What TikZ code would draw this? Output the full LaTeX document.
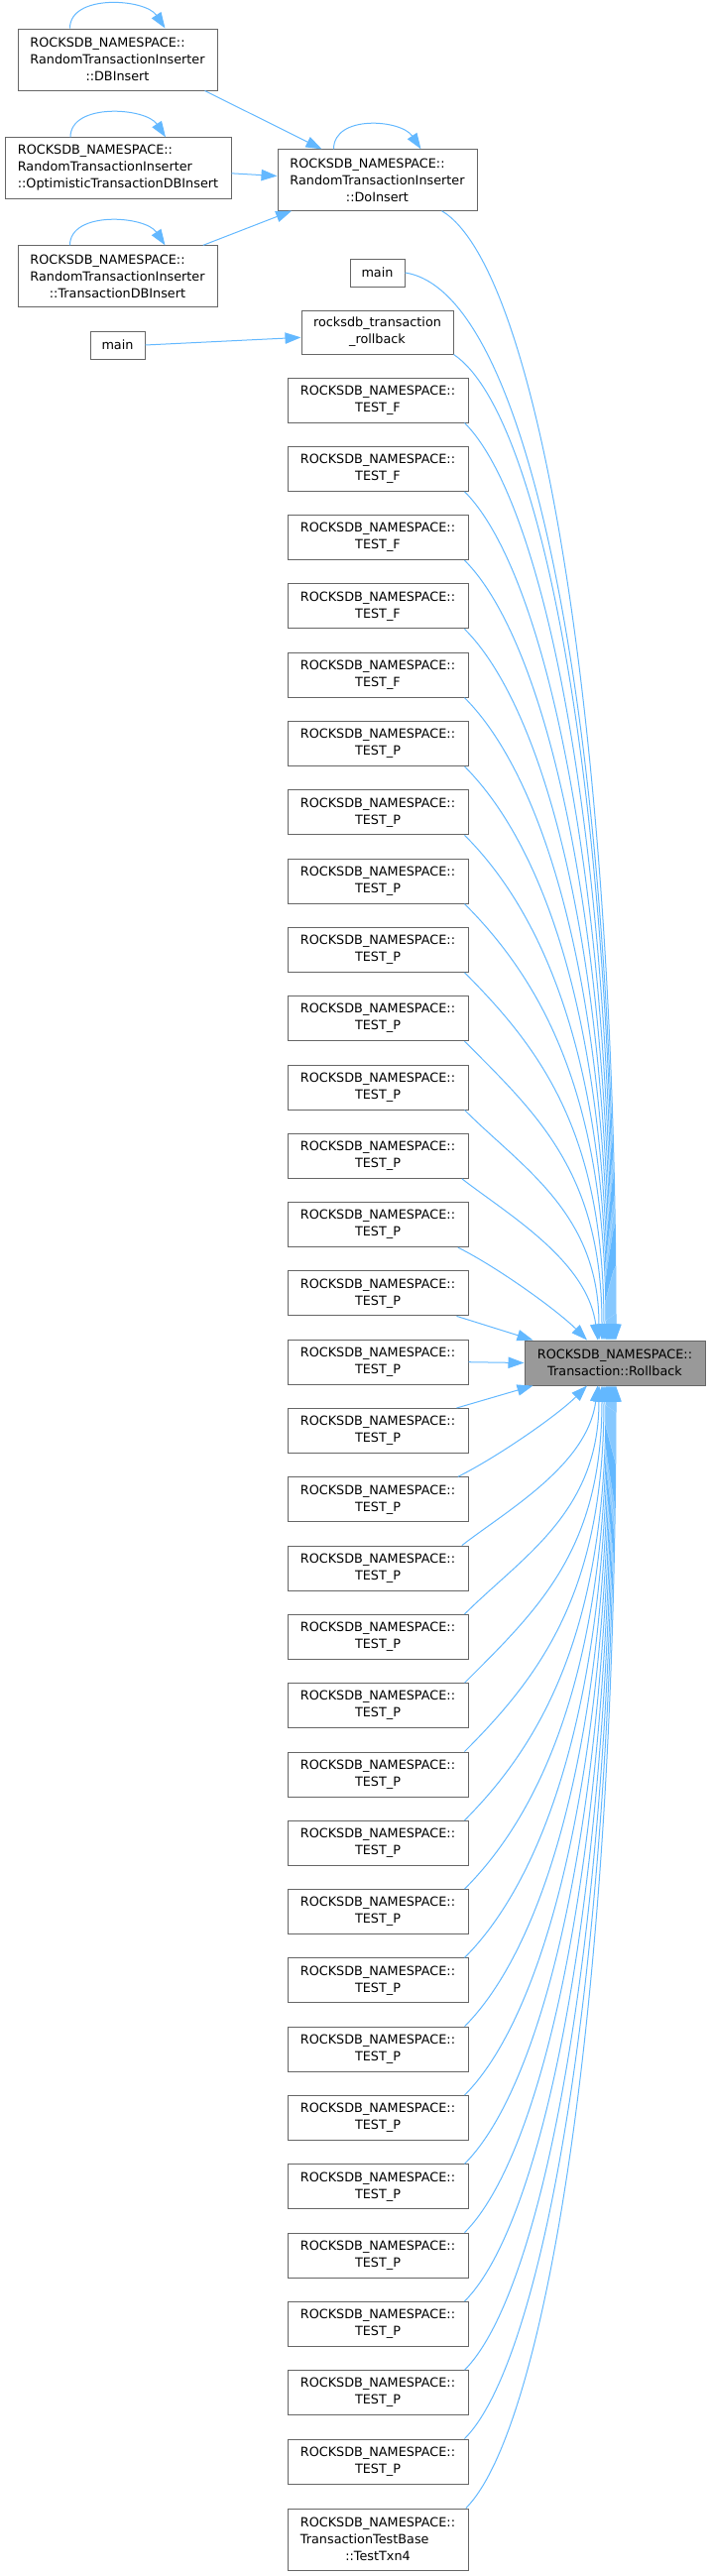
\documentclass[tikz,border=0pt]{standalone}
\usepackage{fontspec}
\setmainfont{DejaVu Sans}
\usepackage{color}
\usepackage{tikz}
\usetikzlibrary{arrows.meta}

\definecolor{edgeblue}{HTML}{63B8FF}
\definecolor{boxgray}{HTML}{666666}
\definecolor{rbgray}{HTML}{999999}

\newcommand{\lpad}[2]{\rlap{#1}\phantom{#2}}

\tikzset{
  fn/.style={draw=boxgray, fill=white, line width=0.75pt, align=center, inner sep=0pt,
    minimum width=136.5pt, minimum height=33.75pt},
  call/.style={draw=edgeblue, line width=0.75pt, -{Triangle[length=12pt,width=8.5pt]}},
}

\begin{document}
\begin{tikzpicture}[x=0.75pt,y=-0.75pt]
\fontsize{9.6}{12.75}\selectfont
\useasboundingbox (0,0) rectangle (716,2598);
% callers of DoInsert
\node[fn, minimum width=150.75pt, minimum height=46.5pt] (dbins) at (118.5,60) {\lpad{ROCKSDB\_NAMESPACE::}{RandomTransactionInserter}\\RandomTransactionInserter\\::DBInsert};
\node[fn, align=left, minimum width=171pt, minimum height=46pt] (optins) at (119,169.5) {ROCKSDB\_NAMESPACE::\\RandomTransactionInserter\\::OptimisticTransactionDBInsert};
\node[fn, minimum width=150.75pt, minimum height=46pt] (txnins) at (118.5,278.5) {\lpad{ROCKSDB\_NAMESPACE::}{RandomTransactionInserter}\\RandomTransactionInserter\\::TransactionDBInsert};
\node[fn, minimum width=150.75pt, minimum height=46pt] (doins) at (380.5,181.5) {\lpad{ROCKSDB\_NAMESPACE::}{RandomTransactionInserter}\\RandomTransactionInserter\\::DoInsert};
\node[fn, minimum width=41.25pt, minimum height=21pt] (mainA) at (380.5,275) {main};
\node[fn, minimum width=114.75pt, minimum height=33pt] (rtr) at (380.5,335) {rocksdb\_transaction\\\_rollback};
\node[fn, minimum width=41.25pt, minimum height=21pt] (mainB) at (118.5,348) {main};
% the tests
\node[fn] (tf1) at (381,403.5) {ROCKSDB\_NAMESPACE::\\TEST\_F};
\node[fn] (tf2) at (381,472.8) {ROCKSDB\_NAMESPACE::\\TEST\_F};
\node[fn] (tf3) at (381,542.1) {ROCKSDB\_NAMESPACE::\\TEST\_F};
\node[fn] (tf4) at (381,611.4) {ROCKSDB\_NAMESPACE::\\TEST\_F};
\node[fn] (tf5) at (381,680.7) {ROCKSDB\_NAMESPACE::\\TEST\_F};
\node[fn] (tp1) at (381,750.0) {ROCKSDB\_NAMESPACE::\\TEST\_P};
\node[fn] (tp2) at (381,819.3) {ROCKSDB\_NAMESPACE::\\TEST\_P};
\node[fn] (tp3) at (381,888.6) {ROCKSDB\_NAMESPACE::\\TEST\_P};
\node[fn] (tp4) at (381,957.9) {ROCKSDB\_NAMESPACE::\\TEST\_P};
\node[fn] (tp5) at (381,1027.2) {ROCKSDB\_NAMESPACE::\\TEST\_P};
\node[fn] (tp6) at (381,1096.5) {ROCKSDB\_NAMESPACE::\\TEST\_P};
\node[fn] (tp7) at (381,1165.8) {ROCKSDB\_NAMESPACE::\\TEST\_P};
\node[fn] (tp8) at (381,1235.1) {ROCKSDB\_NAMESPACE::\\TEST\_P};
\node[fn] (tp9) at (381,1304.4) {ROCKSDB\_NAMESPACE::\\TEST\_P};
\node[fn] (tp10) at (381,1373.7) {ROCKSDB\_NAMESPACE::\\TEST\_P};
\node[fn] (tp11) at (381,1443.0) {ROCKSDB\_NAMESPACE::\\TEST\_P};
\node[fn] (tp12) at (381,1512.3) {ROCKSDB\_NAMESPACE::\\TEST\_P};
\node[fn] (tp13) at (381,1581.6) {ROCKSDB\_NAMESPACE::\\TEST\_P};
\node[fn] (tp14) at (381,1650.9) {ROCKSDB\_NAMESPACE::\\TEST\_P};
\node[fn] (tp15) at (381,1720.2) {ROCKSDB\_NAMESPACE::\\TEST\_P};
\node[fn] (tp16) at (381,1789.5) {ROCKSDB\_NAMESPACE::\\TEST\_P};
\node[fn] (tp17) at (381,1858.8) {ROCKSDB\_NAMESPACE::\\TEST\_P};
\node[fn] (tp18) at (381,1928.1) {ROCKSDB\_NAMESPACE::\\TEST\_P};
\node[fn] (tp19) at (381,1997.4) {ROCKSDB\_NAMESPACE::\\TEST\_P};
\node[fn] (tp20) at (381,2066.7) {ROCKSDB\_NAMESPACE::\\TEST\_P};
\node[fn] (tp21) at (381,2136.0) {ROCKSDB\_NAMESPACE::\\TEST\_P};
\node[fn] (tp22) at (381,2205.3) {ROCKSDB\_NAMESPACE::\\TEST\_P};
\node[fn] (tp23) at (381,2274.6) {ROCKSDB\_NAMESPACE::\\TEST\_P};
\node[fn] (tp24) at (381,2343.9) {ROCKSDB\_NAMESPACE::\\TEST\_P};
\node[fn] (tp25) at (381,2413.2) {ROCKSDB\_NAMESPACE::\\TEST\_P};
\node[fn] (tp26) at (381,2482.5) {ROCKSDB\_NAMESPACE::\\TEST\_P};
\node[fn, minimum height=46.5pt] (txn4) at (381,2561) {ROCKSDB\_NAMESPACE::\\\lpad{TransactionTestBase}{ROCKSDB\_NAMESPACE::}\\::TestTxn4};
\node[fn, fill=rbgray] (rb) at (620,1374.5) {ROCKSDB\_NAMESPACE::\\Transaction::Rollback}; % the callee
% self calls
\draw[call] ([xshift=-36pt]dbins.north) .. controls +(0,-35) and +(-20,-30) .. ([xshift=36pt]dbins.north);
\draw[call] ([xshift=-36pt]optins.north) .. controls +(0,-35) and +(-20,-30) .. ([xshift=36pt]optins.north);
\draw[call] ([xshift=-36pt]txnins.north) .. controls +(0,-35) and +(-20,-30) .. ([xshift=36pt]txnins.north);
\draw[call] ([xshift=-33pt]doins.north) .. controls +(0,-35) and +(-20,-30) .. ([xshift=33pt]doins.north);
% into DoInsert and rocksdb_transaction_rollback
\draw[call] ([xshift=-9.75pt]dbins.south east) -- ([xshift=33.75pt]doins.north west);
\draw[call] ([yshift=-4pt]optins.east) -- ([yshift=3pt]doins.west);
\draw[call] ([xshift=-11pt]txnins.north east) -- ([xshift=11pt]doins.south west);
\draw[call] (mainB.east) -- ([yshift=-4pt]rtr.west);
% into Rollback from above
\draw[call] ([xshift=-27pt]doins.south east) .. controls +(100,60) and +(0,-600) .. ([xshift=0.75pt]rb.north);
\draw[call] (mainA.east) .. controls +(130,20) and +(0,-600) .. (rb.north);
\draw[call] (rtr.south east) .. controls +(90,60) and +(0,-547) .. ([xshift=-0.75pt]rb.north);
\draw[call] ([xshift=-3pt]tf1.south east) .. controls +(80,80) and +(0,-509) .. ([xshift=-1.5pt]rb.north);
\draw[call] ([xshift=-3pt]tf2.south east) .. controls +(80,80) and +(0,-471) .. ([xshift=-2.25pt]rb.north);
\draw[call] ([xshift=-3pt]tf3.south east) .. controls +(80,80) and +(0,-433) .. ([xshift=-3pt]rb.north);
\draw[call] ([xshift=-3pt]tf4.south east) .. controls +(80,80) and +(0,-395) .. ([xshift=-3.75pt]rb.north);
\draw[call] ([xshift=-3pt]tf5.south east) .. controls +(80,80) and +(0,-357) .. ([xshift=-4.5pt]rb.north);
\draw[call] ([xshift=-3pt]tp1.south east) .. controls +(80,80) and +(0,-319) .. ([xshift=-5.25pt]rb.north);
\draw[call] ([xshift=-3pt]tp2.south east) .. controls +(80,80) and +(0,-281) .. ([xshift=-6pt]rb.north);
\draw[call] ([xshift=-3pt]tp3.south east) .. controls +(80,80) and +(0,-243) .. ([xshift=-6.75pt]rb.north);
\draw[call] ([xshift=-3pt]tp4.south east) .. controls +(80,80) and +(0,-205) .. ([xshift=-8.25pt]rb.north);
\draw[call] ([xshift=-3pt]tp5.south east) .. controls +(75,75) and +(0,-167) .. ([xshift=-9.75pt]rb.north);
\draw[call] ([xshift=-3pt]tp6.south east) .. controls +(58,58) and +(0,-128) .. ([xshift=-12pt]rb.north);
\draw[call] ([xshift=-5pt]tp7.south east) .. controls +(45,35) and +(-10,-80) .. ([xshift=-13pt]rb.north);
\draw[call] ([xshift=-8pt]tp8.south east) .. controls +(40,20) and +(-30,-30) .. ([xshift=-21pt]rb.north);
\draw[call] ([xshift=-9pt]tp9.south east) -- ([xshift=6.75pt]rb.north west);
\draw[call] (tp10.east) -- (rb.west);
% into Rollback from below
\draw[call] ([xshift=-9pt]tp11.north east) -- ([xshift=6.75pt]rb.south west);
\draw[call] ([xshift=-8pt]tp12.north east) .. controls +(40,-20) and +(-30,30) .. ([xshift=-21pt]rb.south);
\draw[call] ([xshift=-5pt]tp13.north east) .. controls +(45,-35) and +(-10,80) .. ([xshift=-13pt]rb.south);
\draw[call] ([xshift=-3pt]tp14.north east) .. controls +(58,-58) and +(0,128) .. ([xshift=-12pt]rb.south);
\draw[call] ([xshift=-3pt]tp15.north east) .. controls +(75,-75) and +(0,165) .. ([xshift=-9.75pt]rb.south);
\draw[call] ([xshift=-3pt]tp16.north east) .. controls +(80,-80) and +(0,204) .. ([xshift=-8.25pt]rb.south);
\draw[call] ([xshift=-3pt]tp17.north east) .. controls +(80,-80) and +(0,242) .. ([xshift=-6.75pt]rb.south);
\draw[call] ([xshift=-3pt]tp18.north east) .. controls +(80,-80) and +(0,280) .. ([xshift=-6pt]rb.south);
\draw[call] ([xshift=-3pt]tp19.north east) .. controls +(80,-80) and +(0,318) .. ([xshift=-5.25pt]rb.south);
\draw[call] ([xshift=-3pt]tp20.north east) .. controls +(80,-80) and +(0,356) .. ([xshift=-4.5pt]rb.south);
\draw[call] ([xshift=-3pt]tp21.north east) .. controls +(80,-80) and +(0,394) .. ([xshift=-3.75pt]rb.south);
\draw[call] ([xshift=-3pt]tp22.north east) .. controls +(80,-80) and +(0,432) .. ([xshift=-3pt]rb.south);
\draw[call] ([xshift=-3pt]tp23.north east) .. controls +(80,-80) and +(0,470) .. ([xshift=-2.25pt]rb.south);
\draw[call] ([xshift=-3pt]tp24.north east) .. controls +(80,-80) and +(0,508) .. ([xshift=-1.5pt]rb.south);
\draw[call] ([xshift=-3pt]tp25.north east) .. controls +(80,-80) and +(0,546) .. ([xshift=-0.75pt]rb.south);
\draw[call] ([xshift=-3pt]tp26.north east) .. controls +(80,-80) and +(0,584) .. (rb.south);
\draw[call] ([xshift=-2pt]txn4.north east) .. controls +(80,-80) and +(0,623) .. ([xshift=0.75pt]rb.south);
\end{tikzpicture}
\end{document}
